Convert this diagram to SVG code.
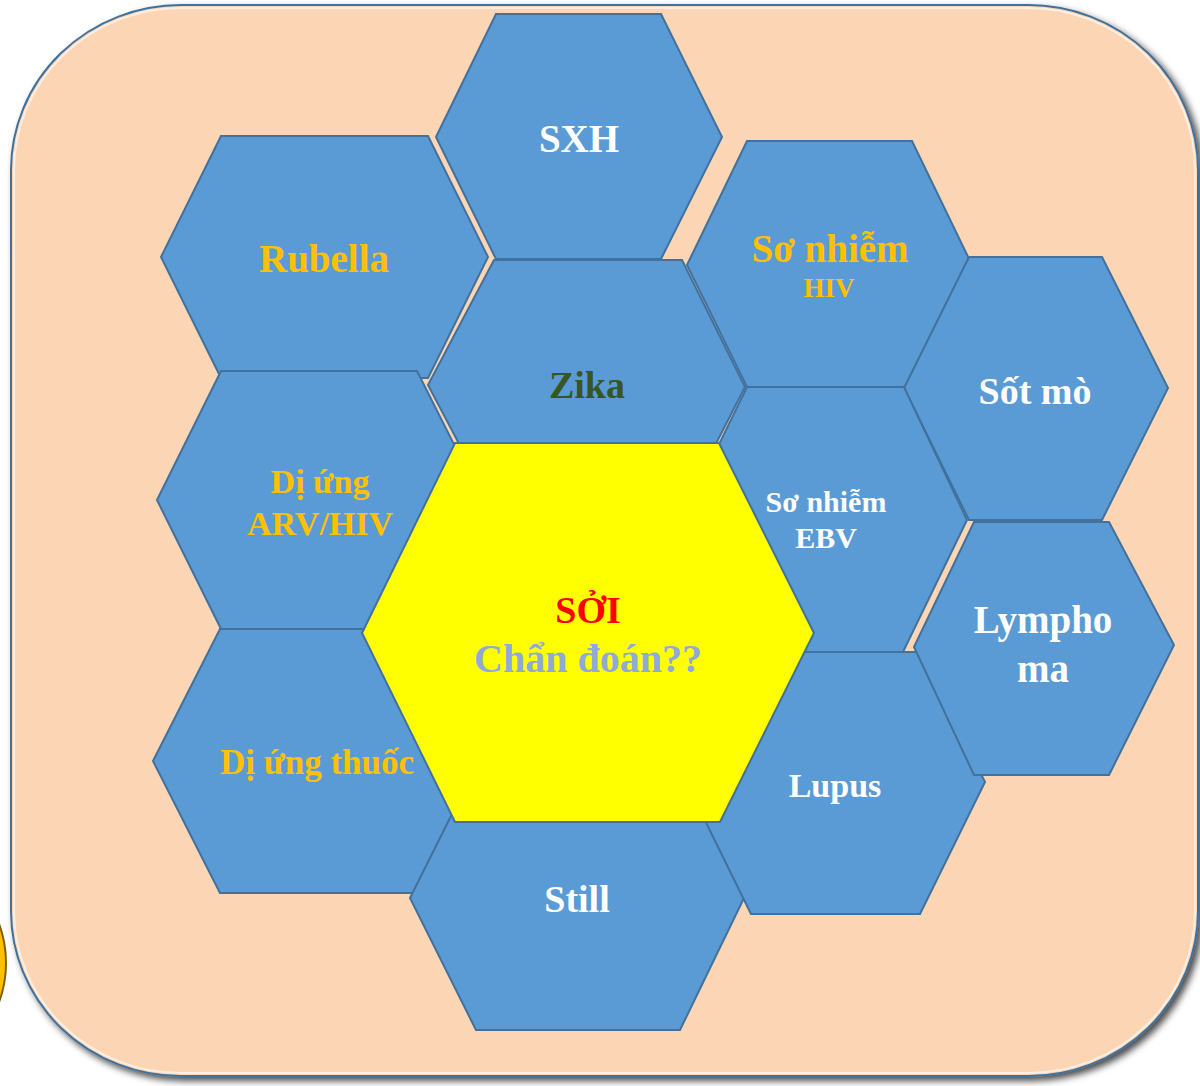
<svg xmlns="http://www.w3.org/2000/svg" width="1200" height="1086" viewBox="0 0 1200 1086">
<defs>
<filter id="shadow" x="-5%" y="-5%" width="110%" height="110%">
<feDropShadow dx="4" dy="4" stdDeviation="3.5" flood-color="#000" flood-opacity="0.7"/>
</filter>
<style>
.hex{fill:#5B9BD5;stroke:#41719C;stroke-width:2;stroke-linejoin:miter}
.t{font-family:"Liberation Serif","Times New Roman",serif;font-weight:bold;text-anchor:middle}
.w{fill:#FFFFFF}
.g{fill:#FFC000}
</style>
</defs>
<rect width="1200" height="1086" fill="#FFFFFF"/>
<circle cx="-108" cy="963" r="114" fill="#FFC000" stroke="#7F6000" stroke-width="2"/>
<g id="frame">
<rect x="11" y="5" width="1187" height="1071" rx="170" ry="165" fill="#FCD5B4" stroke="#41719C" stroke-width="2" filter="url(#shadow)"/>
<rect x="14" y="8" width="1181" height="1065" rx="167" ry="162" fill="none" stroke="#FFFFFF" stroke-opacity="0.6" stroke-width="2"/>
</g>
<g id="connectors"></g>
<g id="rubella">
<polygon class="hex" points="161,257 221,136 428,136 488,257 428,378 221,378"/>
<text class="t g" x="324" y="272" font-size="39">Rubella</text>
</g>
<g id="sxh">
<polygon class="hex" points="436,137 496,14 661,14 722,137 661,259 496,259"/>
<text class="t w" x="579" y="152" font-size="39">SXH</text>
</g>
<g id="di-ung-arv">
<polygon class="hex" points="157,500 221,371 417,371 482,500 417,629 221,629"/>
<text class="t g" x="320" y="493" font-size="34">Dị ứng</text>
<text class="t g" x="320" y="535" font-size="34">ARV/HIV</text>
</g>
<g id="di-ung-thuoc">
<polygon class="hex" points="153,761 220,629 414,629 480,761 414,893 220,893"/>
<text class="t g" x="317" y="774" font-size="35">Dị ứng thuốc</text>
</g>
<g id="zika">
<polygon class="hex" points="428,385 494,260 682,260 745,387 682,510 494,510"/>
<text class="t" x="587" y="398" font-size="38" fill="#375623">Zika</text>
</g>
<g id="so-nhiem-hiv">
<polygon class="hex" points="687,265 747,141 912,141 972,265 912,387 747,387"/>
<text class="t g" x="830" y="262" font-size="39">Sơ nhiễm</text>
<text class="t g" x="829" y="297" font-size="27">HIV</text>
</g>
<g id="sot-mo">
<polygon class="hex" points="904,388 969,257 1102,257 1168,388 1102,520 969,520"/>
<text class="t w" x="1035" y="404" font-size="38">Sốt mò</text>
</g>
<g id="so-nhiem-ebv">
<polygon class="hex" points="682,520 747,387 904,387 967,520 903,652 747,652"/>
<text class="t w" x="826" y="512" font-size="30">Sơ nhiễm</text>
<text class="t w" x="826" y="548" font-size="30">EBV</text>
</g>
<g id="still">
<polygon class="hex" points="410,898 476,766 680,766 744,898 680,1030 476,1030"/>
<text class="t w" x="577" y="912" font-size="38">Still</text>
</g>
<g id="lupus">
<polygon class="hex" points="686,782 751,652 920,652 985,782 920,914 751,914"/>
<text class="t w" x="835" y="797" font-size="34">Lupus</text>
</g>
<g id="lympho-ma">
<polygon class="hex" points="914,647 974,522 1109,522 1174,645 1109,775 974,775"/>
<text class="t w" x="1043" y="633" font-size="39">Lympho</text>
<text class="t w" x="1043" y="682" font-size="39">ma</text>
</g>
<g id="soi">
<polygon points="362,633 455,443 719,443 814,633 720,822 455,822" fill="#FFFF00" stroke="#41719C" stroke-width="2"/>
<text class="t" x="588" y="623" font-size="38" fill="#FF0000">SỞI</text>
<text class="t" x="588" y="672" font-size="40" fill="#8EAADB">Chẩn đoán??</text>
</g>
</svg>
